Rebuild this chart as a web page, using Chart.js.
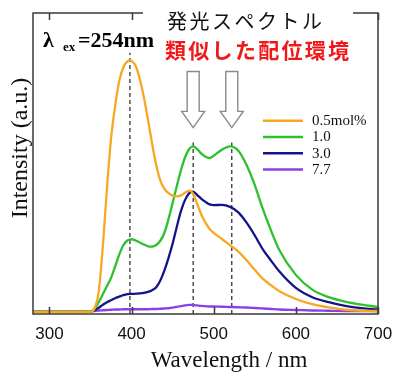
<!DOCTYPE html>
<html><head><meta charset="utf-8">
<script src="https://cdn.jsdelivr.net/npm/chart.js@4/dist/chart.umd.min.js"></script>
<style>html,body{margin:0;padding:0;background:#fff}#wrap{width:406px;height:380px;position:relative}</style>
</head><body><div id="wrap"><canvas id="c" width="406" height="380"></canvas></div>
<script>
// ---- data ----
const wavelength = [280,345,350,355,360,365,370,375,380,385,390,395,398,400,405,410,415,420,425,430,435,440,445,450,455,460,465,470,475,480,485,490,495,500,510,520,530,540,550,560,570,580,600,620,640,660,680,700];
const conc05 = [0,0,0,1.5,8,26,49,69,82,92,97.5,99.8,100.3,100,98,92.8,85.5,76.5,67,58.5,52.3,49,47.3,46.3,46,46.4,47.4,48.3,47,42.8,38.7,35.5,33,31.4,29,26.5,24,20.5,16.7,13.1,10.5,8.2,5.1,3,1.7,0.8,0.4,0.3];
const conc10 = [0,0,0,1.2,3.8,7,10.2,13.5,18,22.8,26.5,28.4,28.8,28.9,28.4,27.6,26.8,26.1,26,26.6,28.3,31.5,37,43.5,50,56.3,61.5,64.8,65.9,64.8,63,61.8,61.3,62.2,64.6,65.9,64.2,58.5,50.5,40.8,32.2,24.5,14.7,8.8,5.8,4,2.8,1.9];
const conc30 = [0,0,0,0.6,1.6,2.8,3.8,4.6,5.4,6,6.6,7,7.1,7.1,7.2,7.3,7.5,7.9,8.6,9.8,12.5,16.5,21.5,27.2,33.8,40,44.5,47.2,47.9,46.5,45,43.8,42.8,42.5,42.6,41.8,39.6,35.5,30.4,24.8,20.3,16,9.5,5.8,3.8,2.3,1.4,0.9];
const conc77 = [0,0,0.1,0.3,0.5,0.6,0.7,0.8,0.9,0.9,1,1,1,1,1,1,1,1,1.1,1.1,1.2,1.3,1.4,1.6,1.9,2.2,2.5,2.7,2.7,2.5,2.3,2.2,2.1,2.1,2,1.9,1.8,1.7,1.5,1.3,1.1,0.9,0.7,0.5,0.4,0.3,0.3,0.2];
const seriesLabels = ['0.5mol%','1.0','3.0','7.7'];
const xTicks = [300,400,500,600,700];
const peakLines = [398,475,522];
const peakLineTops = [103.3,67.5,67.5];
const arrowAt = [475,522];

// ---- styles ----
const seriesColors = ['#f7a823','#2dc12d','#14148a','#8b3fe4'];
const seriesValues = [conc05,conc10,conc30,conc77];
const Y_MIN = -0.9, Y_MAX = 119.1;

const datasets = seriesValues.map((vals,i)=>({
  label: seriesLabels[i],
  data: wavelength.map((w,j)=>({x:w,y:vals[j]})),
  borderColor: seriesColors[i],
  borderWidth: 2.3,
  pointRadius: 0,
  cubicInterpolationMode: 'monotone',
  fill: false
}));
peakLines.forEach((w,i)=>{
  datasets.push({
    label: 'peak'+i,
    data: [{x:w,y:Y_MIN},{x:w,y:peakLineTops[i]}],
    borderColor: '#222',
    borderWidth: 1.2,
    borderDash: [4,3],
    pointRadius: 0,
    fill: false
  });
});

const decor = {
  id: 'decor',
  afterDatasetsDraw(chart) {
    const ctx = chart.ctx, a = chart.chartArea;
    const xs = chart.scales.x, ys = chart.scales.y;
    ctx.save();
    // frame
    ctx.strokeStyle = '#3a3a3a';
    ctx.lineWidth = 1.5;
    ctx.strokeRect(a.left, a.top, a.right - a.left, a.bottom - a.top);
    // inner ticks
    xTicks.forEach(v=>{
      const px = Math.round(xs.getPixelForValue(v)) + 0.5;
      ctx.beginPath();
      ctx.moveTo(px, a.bottom); ctx.lineTo(px, a.bottom - 7);
      ctx.moveTo(px, a.top); ctx.lineTo(px, a.top + 7);
      ctx.stroke();
    });
    // white box behind heading
    ctx.fillStyle = '#fff';
    ctx.fillRect(143, 0, 210, 30);
    // arrows
    arrowAt.forEach(w=>{
      const cx = xs.getPixelForValue(w);
      const yTop = ys.getPixelForValue(95.8);
      const yHead = ys.getPixelForValue(79.9);
      const yTip = ys.getPixelForValue(73.4);
      ctx.beginPath();
      ctx.moveTo(cx-6, yTop); ctx.lineTo(cx+6, yTop);
      ctx.lineTo(cx+6, yHead); ctx.lineTo(cx+11.5, yHead);
      ctx.lineTo(cx, yTip); ctx.lineTo(cx-11.5, yHead);
      ctx.lineTo(cx-6, yHead); ctx.closePath();
      ctx.fillStyle = '#fff'; ctx.fill();
      ctx.strokeStyle = '#8a8a8a'; ctx.lineWidth = 1.4; ctx.stroke();
    });
    // legend
    seriesLabels.forEach((lab,i)=>{
      const y = 120.7 + 16.3*i;
      ctx.strokeStyle = seriesColors[i]; ctx.lineWidth = 2.5;
      ctx.beginPath(); ctx.moveTo(263,y); ctx.lineTo(303,y); ctx.stroke();
      ctx.fillStyle = '#111';
      ctx.font = '15px "Liberation Serif"';
      ctx.textBaseline = 'middle'; ctx.textAlign = 'left';
      ctx.fillText(lab, 312, y+0.5);
    });
    // lambda ex label
    ctx.fillStyle = '#000';
    ctx.textBaseline = 'alphabetic';
    ctx.font = 'bold 22px "Liberation Serif"';
    ctx.fillText('λ', 43, 47);
    ctx.font = 'bold 13px "Liberation Serif"';
    ctx.fillText('ex', 63, 51);
    ctx.font = 'bold 22px "Liberation Serif"';
    ctx.fillText('=254nm', 78, 47);
    // Japanese headings
    ctx.letterSpacing = '2.5px';
    ctx.font = '20px "Noto Sans CJK JP"';
    ctx.fillStyle = '#111';
    ctx.fillText('発光スペクトル', 167, 29);
    ctx.letterSpacing = '2.3px';
    ctx.font = 'bold 21px "Noto Sans CJK JP"';
    ctx.fillStyle = '#f01818';
    ctx.fillText('類似した配位環境', 165, 58);
    ctx.letterSpacing = '0px';
    // axis titles
    ctx.fillStyle = '#111';
    ctx.font = '23px "Liberation Serif"';
    ctx.textAlign = 'center'; ctx.textBaseline = 'middle';
    ctx.fillText('Wavelength / nm', 229, 361);
    ctx.font = '24px "Liberation Serif"';
    ctx.translate(21, 148);
    ctx.rotate(-Math.PI/2);
    ctx.fillText('Intensity (a.u.)', 0, 0);
    ctx.restore();
  }
};

new Chart(document.getElementById('c'), {
  type: 'line',
  data: { datasets },
  options: {
    responsive: false,
    animation: false,
    devicePixelRatio: 1,
    layout: { padding: { left: 33, right: 28, top: 13, bottom: 36 } },
    plugins: { legend: { display: false }, tooltip: { enabled: false } },
    scales: {
      x: {
        type: 'linear', min: 280, max: 700,
        afterBuildTicks: s => { s.ticks = xTicks.map(v=>({value:v})); },
        afterFit: s => { s.height = 30; },
        grid: { display: false, drawTicks: false, tickLength: 0 },
        border: { display: false },
        ticks: { font: { family: 'Liberation Sans', size: 17 }, color: '#111', padding: 10, maxRotation: 0, autoSkip: false }
      },
      y: { display: false, min: Y_MIN, max: Y_MAX }
    }
  },
  plugins: [decor]
});
</script></body></html>
